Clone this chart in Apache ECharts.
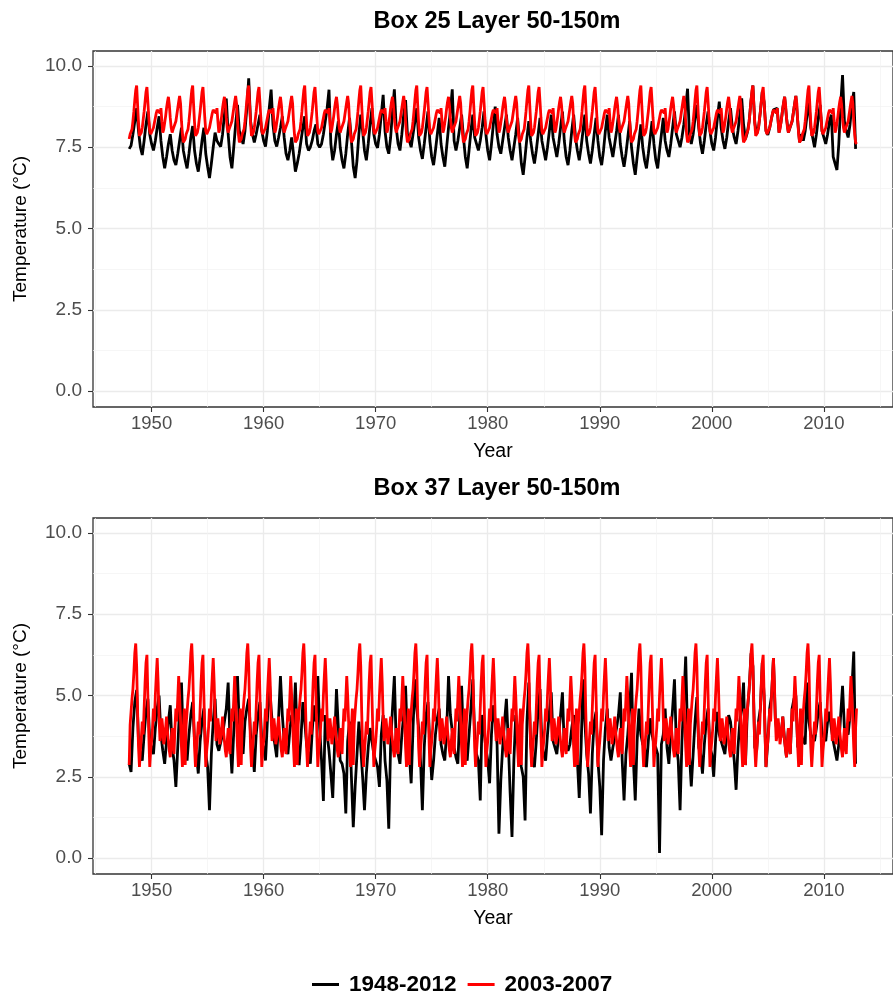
<!DOCTYPE html>
<html>
<head>
<meta charset="utf-8">
<script src="https://cdn.jsdelivr.net/npm/echarts@6/dist/echarts.min.js"></script>
<style>
  html, body { margin: 0; padding: 0; background: #ffffff; }
  #chart { width: 893px; height: 994px; }
</style>
</head>
<body>
<div id="chart"></div>
<script>
// Monthly temperature (°C), layer 50-150 m, 1948-2012.
// Full record is stored as six values per year (Jan, Mar, May, Jul, Sep, Nov).
const firstYear = 1948;
const lastYear = 2012;
const sampleMonths = [0, 2, 4, 6, 8, 10];

const box25Record = [
  7.45, 7.55, 7.90, 8.30, 8.70, 8.00,  // 1948
  7.50, 7.26, 7.70, 8.20, 8.60, 7.90,
  7.60, 7.40, 7.70, 8.10, 8.45, 7.70,  // 1950
  7.20, 6.85, 7.20, 7.60, 7.90, 7.40,
  7.10, 6.95, 7.30, 7.70, 8.10, 7.40,
  7.10, 6.85, 7.30, 7.80, 8.15, 7.40,
  7.00, 6.75, 7.20, 7.70, 8.10, 7.30,
  6.90, 6.55, 7.00, 7.50, 7.95, 7.70,
  7.60, 7.52, 7.90, 8.50, 9.00, 7.90,
  7.20, 6.85, 7.50, 8.20, 8.80, 8.00,
  7.80, 7.60, 8.00, 8.70, 9.62, 8.30,
  7.90, 7.65, 7.90, 8.20, 8.50, 8.00,
  7.70, 7.52, 8.00, 8.70, 9.27, 8.20,  // 1960
  7.70, 7.52, 7.80, 8.10, 8.45, 7.80,
  7.30, 7.10, 7.40, 7.80, 7.80, 6.75,
  7.00, 7.30, 7.70, 8.10, 8.45, 7.60,
  7.40, 7.50, 7.70, 8.00, 8.20, 7.60,
  7.50, 7.60, 7.90, 8.30, 8.70, 9.27,
  7.60, 7.10, 7.40, 7.90, 8.30, 7.50,
  7.10, 6.85, 7.30, 7.90, 8.40, 7.70,
  6.90, 6.55, 7.10, 7.90, 8.50, 8.00,
  7.40, 7.10, 7.60, 8.20, 8.70, 7.90,
  7.60, 7.48, 7.90, 8.50, 9.11, 8.00,  // 1970
  7.50, 7.30, 7.80, 8.60, 9.28, 8.10,
  7.60, 7.40, 7.90, 8.50, 8.95, 7.90,
  7.70, 7.50, 7.90, 8.30, 8.70, 7.80,
  7.40, 7.14, 7.60, 8.10, 8.60, 7.70,
  7.20, 6.95, 7.40, 7.90, 8.40, 7.60,
  7.20, 6.90, 7.50, 8.10, 8.60, 9.28,
  7.70, 7.40, 7.70, 8.10, 8.50, 7.80,
  7.20, 6.85, 7.40, 8.00, 8.50, 7.80,
  7.60, 7.40, 7.70, 8.10, 8.60, 7.90,
  7.40, 7.10, 7.60, 8.20, 8.75, 7.90,  // 1980
  7.50, 7.30, 7.70, 8.10, 8.50, 7.80,
  7.40, 7.10, 7.50, 7.90, 8.40, 7.70,
  7.00, 6.65, 7.20, 7.80, 8.30, 7.70,
  7.30, 7.00, 7.40, 7.90, 8.40, 7.70,
  7.40, 7.10, 7.50, 8.00, 8.50, 7.80,
  7.50, 7.20, 7.60, 8.10, 8.60, 7.70,
  7.20, 6.95, 7.40, 8.00, 8.50, 7.80,
  7.40, 7.10, 7.50, 8.00, 8.50, 7.70,
  7.30, 7.00, 7.40, 7.90, 8.40, 7.70,
  7.20, 6.95, 7.40, 8.00, 8.50, 7.80,  // 1990
  7.50, 7.20, 7.60, 8.00, 8.50, 7.60,
  7.20, 6.90, 7.30, 7.80, 8.30, 7.50,
  7.00, 6.65, 7.20, 7.70, 8.20, 7.50,
  7.10, 6.85, 7.30, 7.80, 8.30, 7.60,
  7.10, 6.85, 7.40, 7.90, 8.40, 7.70,
  7.40, 7.20, 7.60, 8.10, 8.60, 7.90,
  7.70, 7.50, 7.80, 8.20, 8.70, 9.30,
  7.90, 7.60, 7.90, 8.40, 8.80, 8.10,
  7.60, 7.30, 7.70, 8.20, 8.60, 8.00,
  7.60, 7.40, 7.80, 8.40, 8.90, 8.10,  // 2000
  7.70, 7.45, 7.80, 8.30, 8.70, 8.10,
  7.80, 7.60, 8.00, 8.50, 9.00, 8.20,
  7.75, 7.95, 8.30, 8.95, 9.40, 8.25,
  7.90, 8.10, 8.60, 9.20, 8.90, 8.00,
  7.88, 8.10, 8.40, 8.65, 8.60, 8.70,
  7.95, 8.25, 8.70, 9.05, 8.40, 7.95,
  8.00, 8.30, 8.70, 9.08, 8.30, 7.65,
  7.90, 7.70, 8.00, 8.50, 8.90, 8.10,
  7.80, 7.50, 7.90, 8.40, 8.80, 8.00,
  7.80, 7.60, 7.90, 8.30, 8.50, 7.20,  // 2010
  7.00, 6.80, 7.60, 8.80, 9.72, 8.30,
  8.00, 7.80, 8.20, 8.80, 9.20, 7.45
];

const box37Record = [
  2.90, 2.65, 4.00, 4.80, 5.17, 3.60,  // 1948
  3.20, 3.00, 3.80, 4.50, 4.90, 3.60,
  3.40, 3.20, 4.00, 4.60, 5.00, 3.80,  // 1950
  3.30, 2.90, 3.60, 4.20, 4.70, 3.40,
  3.00, 2.19, 3.40, 4.60, 5.40, 3.50,
  3.40, 3.00, 3.80, 4.40, 4.80, 3.60,
  3.20, 2.60, 3.60, 4.20, 4.60, 3.20,
  2.80, 1.47, 3.20, 4.20, 4.90, 3.50,
  3.30, 3.30, 3.80, 4.20, 4.60, 5.40,
  3.60, 2.60, 3.90, 4.80, 5.60, 4.00,
  3.60, 3.20, 4.20, 4.60, 4.90, 3.80,
  3.40, 2.65, 3.80, 4.40, 4.80, 3.60,
  3.40, 3.00, 4.20, 5.50, 4.60, 3.90,  // 1960
  3.50, 3.10, 4.30, 5.60, 4.40, 3.60,
  3.40, 3.20, 3.90, 4.40, 4.00, 5.40,
  3.60, 2.86, 3.70, 4.80, 4.20, 3.50,
  3.20, 2.90, 3.90, 4.70, 4.20, 5.60,
  4.00, 3.00, 1.76, 4.40, 3.80, 3.30,
  2.60, 1.85, 3.50, 5.20, 4.00, 3.00,
  2.90, 2.60, 1.37, 3.60, 4.20, 2.50,
  0.95, 2.20, 3.20, 4.20, 3.40, 2.50,
  1.47, 2.60, 3.40, 4.00, 3.60, 3.20,
  3.00, 2.80, 2.19, 3.80, 4.40, 3.00,  // 1970
  2.40, 0.90, 3.50, 4.60, 5.60, 3.50,
  3.20, 2.90, 3.80, 4.40, 5.30, 3.60,
  3.20, 2.30, 4.00, 5.50, 4.60, 4.00,
  3.00, 1.47, 3.40, 4.40, 4.80, 3.50,
  2.40, 3.00, 3.80, 4.30, 4.60, 3.50,
  3.20, 3.00, 3.90, 5.60, 4.40, 3.90,
  3.40, 3.10, 2.90, 4.40, 5.30, 3.60,
  3.20, 3.00, 3.80, 4.60, 5.50, 3.80,
  3.20, 3.00, 1.77, 4.40, 3.90, 3.40,
  3.00, 2.30, 3.80, 4.70, 4.20, 3.50,  // 1980
  0.75, 2.40, 3.40, 4.20, 4.90, 3.60,
  2.00, 0.65, 3.00, 4.40, 3.60, 3.20,
  2.80, 2.50, 1.16, 4.20, 5.40, 3.50,
  3.00, 2.80, 3.60, 4.60, 5.20, 3.50,
  3.20, 3.00, 3.80, 4.50, 5.10, 3.60,
  3.40, 3.20, 3.80, 4.40, 5.10, 3.40,
  3.50, 3.30, 3.50, 4.00, 4.40, 3.30,
  3.00, 1.85, 3.40, 5.50, 4.20, 3.20,
  2.60, 1.37, 3.20, 4.20, 4.50, 3.00,
  2.20, 0.70, 3.00, 4.00, 4.60, 3.40,  // 1990
  3.00, 3.40, 3.40, 4.00, 4.40, 5.10,
  3.00, 1.77, 3.20, 3.80, 4.60, 5.70,
  3.00, 1.77, 3.60, 4.60, 3.80, 3.50,
  3.40, 2.80, 3.60, 4.30, 3.80, 3.50,
  3.40, 3.20, 0.16, 3.50, 3.80, 4.60,
  3.40, 2.90, 3.80, 4.60, 5.50, 3.50,
  3.00, 1.47, 3.60, 4.80, 6.20, 3.80,
  3.20, 2.20, 3.20, 4.20, 4.95, 3.40,
  3.20, 2.60, 3.50, 4.20, 4.60, 3.40,
  3.20, 2.50, 3.60, 4.50, 3.80, 3.60,  // 2000
  3.40, 3.20, 3.80, 4.40, 4.20, 3.60,
  3.00, 2.10, 3.40, 4.20, 4.60, 5.40,
  2.86, 4.50, 5.20, 6.30, 5.90, 3.40,
  3.30, 4.20, 4.60, 6.00, 5.00, 2.80,
  3.60, 4.60, 5.00, 6.15, 4.30, 3.80,
  4.00, 3.70, 4.35, 3.60, 3.10, 4.00,
  3.20, 4.60, 4.90, 5.00, 3.40, 4.00,
  3.80, 3.60, 3.50, 5.40, 4.20, 3.80,
  3.80, 3.60, 4.00, 4.50, 4.80, 3.80,
  3.80, 3.60, 4.20, 4.50, 4.00, 3.60,  // 2010
  3.60, 3.00, 3.50, 4.40, 5.30, 4.00,
  4.00, 3.80, 4.40, 5.20, 6.35, 2.90
];

// Monthly values for 2003-2007 (Jan..Dec, five years), replayed over 1948-2012.
const climYear0 = 2003;
const box25Clim = [
  7.75, 7.90, 7.95, 8.05, 8.30, 8.60, 8.95, 9.25, 9.40, 8.80, 8.25, 7.85,
  7.90, 7.95, 8.10, 8.35, 8.60, 8.90, 9.20, 9.35, 8.90, 8.40, 8.00, 7.90,
  7.88, 7.95, 8.10, 8.25, 8.40, 8.55, 8.65, 8.70, 8.60, 8.55, 8.70, 8.30,
  7.95, 8.05, 8.25, 8.45, 8.70, 8.90, 9.05, 8.80, 8.40, 8.10, 7.95, 8.05,
  8.00, 8.10, 8.30, 8.50, 8.70, 8.90, 9.08, 8.85, 8.30, 7.90, 7.65, 7.60
];
const box37Clim = [
  2.86, 4.10, 4.50, 4.90, 5.20, 5.70, 6.30, 6.60, 5.90, 4.50, 3.40, 2.80,
  3.30, 3.70, 4.20, 3.80, 4.60, 5.40, 6.00, 6.25, 5.00, 3.80, 2.80, 3.30,
  3.60, 4.00, 4.60, 4.20, 5.00, 5.60, 6.15, 5.40, 4.30, 3.60, 3.80, 4.30,
  4.00, 3.50, 3.70, 4.00, 4.35, 3.90, 3.60, 3.30, 3.10, 3.60, 4.00, 3.40,
  3.20, 4.00, 4.60, 4.20, 4.90, 5.60, 5.00, 4.20, 3.40, 2.80, 4.00, 4.60
];

const yearTicks = [1950, 1960, 1970, 1980, 1990, 2000, 2010];
const yearMinorTicks = [1945, 1955, 1965, 1975, 1985, 1995, 2005, 2015];
const tempTicks = [0, 2.5, 5, 7.5, 10];
const tempMinorTicks = [1.25, 3.75, 6.25, 8.75];
const panelTitles = ['Box 25 Layer 50-150m', 'Box 37 Layer 50-150m'];
const seriesNames = ['1948-2012', '2003-2007'];

// ---- build point lists ----
function recordPoints(values) {
  const pts = [];
  for (let y = firstYear; y <= lastYear; y++) {
    sampleMonths.forEach((m, k) => {
      pts.push([y + m / 12, values[(y - firstYear) * sampleMonths.length + k]]);
    });
  }
  return pts;
}
function climPoints(clim) {
  const pts = [];
  for (let y = firstYear; y <= lastYear; y++) {
    const slot = (((y - climYear0) % 5) + 5) % 5;
    for (let m = 0; m < 12; m++) pts.push([y + m / 12, clim[slot * 12 + m]]);
  }
  return pts;
}

const FONT = '"Liberation Sans", Arial, Helvetica, sans-serif';
const X_MIN = 1944.77, X_MAX = 2016.17;
const Y_MIN = -0.49, Y_MAX = 10.46;

const grids = [
  { left: 93, top: 51, width: 809, height: 356 },
  { left: 93, top: 518, width: 809, height: 356 }
];

const xAxes = [], yAxes = [], series = [];
grids.forEach((g, i) => {
  xAxes.push({
    gridIndex: i, type: 'value', min: X_MIN, max: X_MAX, position: 'bottom',
    axisLine: { show: false, onZero: false },
    axisTick: { show: true, customValues: yearTicks, length: 5, lineStyle: { color: '#333333', width: 1.1 } },
    axisLabel: { customValues: yearTicks, formatter: v => String(v), color: '#4D4D4D',
                 fontSize: 18.5, fontFamily: FONT, margin: 7 },
    splitLine: { show: true, lineStyle: { color: '#EBEBEB', width: 1.3 } },
    name: 'Year', nameLocation: 'middle', nameGap: 35,
    nameTextStyle: { color: '#000000', fontSize: 19.5, fontFamily: FONT }
  });
  xAxes.push({
    gridIndex: i, type: 'value', min: X_MIN, max: X_MAX, position: 'bottom',
    axisLine: { show: false, onZero: false },
    axisTick: { show: false, customValues: yearMinorTicks },
    axisLabel: { show: false, customValues: yearMinorTicks },
    splitLine: { show: true, lineStyle: { color: '#F2F2F2', width: 0.7 } }
  });
  yAxes.push({
    gridIndex: i, type: 'value', min: Y_MIN, max: Y_MAX, position: 'left',
    axisLine: { show: false, onZero: false },
    axisTick: { show: true, customValues: tempTicks, length: 5, lineStyle: { color: '#333333', width: 1.1 } },
    axisLabel: { customValues: tempTicks, formatter: v => v.toFixed(1), color: '#4D4D4D',
                 fontSize: 19, fontFamily: FONT, margin: 11 },
    splitLine: { show: true, lineStyle: { color: '#EBEBEB', width: 1.3 } },
    name: 'Temperature (°C)', nameLocation: 'middle', nameGap: 63, nameRotate: 90,
    nameTextStyle: { color: '#000000', fontSize: 19, fontFamily: FONT }
  });
  yAxes.push({
    gridIndex: i, type: 'value', min: Y_MIN, max: Y_MAX, position: 'left',
    axisLine: { show: false, onZero: false },
    axisTick: { show: false, customValues: tempMinorTicks },
    axisLabel: { show: false, customValues: tempMinorTicks },
    splitLine: { show: true, lineStyle: { color: '#F2F2F2', width: 0.7 } }
  });
  const rec = i === 0 ? box25Record : box37Record;
  const clim = i === 0 ? box25Clim : box37Clim;
  series.push({
    name: seriesNames[0], type: 'line', xAxisIndex: i * 2, yAxisIndex: i * 2,
    data: recordPoints(rec), showSymbol: false, symbol: 'none',
    lineStyle: { color: '#000000', width: 2.8 }, itemStyle: { color: '#000000' }, z: 3
  });
  series.push({
    name: seriesNames[1], type: 'line', xAxisIndex: i * 2, yAxisIndex: i * 2,
    data: climPoints(clim), showSymbol: false, symbol: 'none',
    lineStyle: { color: '#FF0000', width: 2.8 }, itemStyle: { color: '#FF0000' }, z: 4
  });
});

const chart = echarts.init(document.getElementById('chart'), null, { renderer: 'canvas' });
chart.setOption({
  animation: false,
  backgroundColor: '#ffffff',
  grid: grids.map(g => Object.assign({ show: true, borderColor: '#333333', borderWidth: 1.3,
                                       backgroundColor: '#ffffff', containLabel: false }, g)),
  xAxis: xAxes,
  yAxis: yAxes,
  series: series,
  legend: {
    data: seriesNames, left: 307, top: 968, icon: 'rect',
    itemWidth: 27, itemHeight: 3, itemGap: 11,
    textStyle: { color: '#000000', fontSize: 22.5, fontWeight: 'bold', fontFamily: FONT, padding: [0, 0, 0, 5] }
  },
  graphic: panelTitles.map((t, i) => ({
    type: 'text', x: 497, y: i === 0 ? 22 : 489,
    style: { text: t, fill: '#000000', font: 'bold 23.5px ' + FONT, align: 'center', verticalAlign: 'middle' }
  }))
});
</script>
</body>
</html>
